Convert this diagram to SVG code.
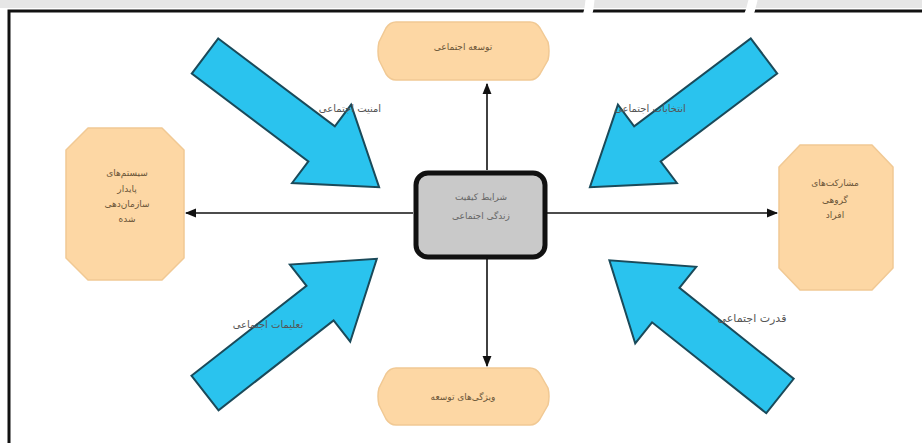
<svg xmlns="http://www.w3.org/2000/svg" width="922" height="443" viewBox="0 0 922 443">
<defs>
<style>
.node{fill:#FDD7A4;stroke:#F1C994;stroke-width:1.5;stroke-linejoin:round}
.ntext{font-family:"DejaVu Sans",sans-serif;font-size:9px;fill:#6a5538;text-anchor:middle}
.lbl{font-family:"DejaVu Sans",sans-serif;font-size:10px;fill:#555;text-anchor:middle}
.conn{stroke:#111;stroke-width:1.6;fill:none}
.big{fill:#2AC3EE;stroke:#1a4a5a;stroke-width:2;stroke-linejoin:miter}
</style>
<marker id="ah" viewBox="0 0 10 10" refX="9" refY="5" markerWidth="7" markerHeight="7" orient="auto-start-reverse">
<path d="M0,1 L10,5 L0,9 Z" fill="#111"/>
</marker>
<path id="barrow" d="M0,-22 L146,-22 L146,-49 L218,0 L146,49 L146,22 L0,22 Z"/>
</defs>
<rect x="0" y="0" width="922" height="443" fill="#fff"/>
<rect x="0" y="0" width="922" height="8" fill="#e6e6e6"/>
<path d="M9,443 L9,11 L922,11" fill="none" stroke="#111" stroke-width="3"/>
<path d="M590,0 Q589,18 579,34 M753,0 Q749,20 738,34" fill="none" stroke="#fff" stroke-width="9" stroke-linecap="round"/>

<g id="connectors">
<line class="conn" x1="487" y1="170" x2="487" y2="84" marker-end="url(#ah)"/>
<line class="conn" x1="487" y1="259" x2="487" y2="366" marker-end="url(#ah)"/>
<line class="conn" x1="413" y1="213" x2="186" y2="213" marker-end="url(#ah)"/>
<line class="conn" x1="547" y1="213" x2="777" y2="213" marker-end="url(#ah)"/>
</g>

<g id="arrow-tl">
<use href="#barrow" class="big" transform="translate(205,56) rotate(37)"/>
<text class="lbl" x="350" y="112">امنیت اجتماعی</text>
</g>
<g id="arrow-tr">
<use href="#barrow" class="big" transform="translate(764,56) rotate(143)"/>
<text class="lbl" x="650" y="112">انتخابات اجتماعی</text>
</g>
<g id="arrow-bl">
<use href="#barrow" class="big" transform="translate(205,393) rotate(-38)"/>
<text class="lbl" x="268" y="328">تعلیمات اجتماعی</text>
</g>
<g id="arrow-br">
<use href="#barrow" class="big" transform="translate(780,396) rotate(-141.5)"/>
<text class="lbl" x="752" y="322" style="font-size:11px">قدرت اجتماعی</text>
</g>

<g id="node-top">
<path class="node" d="M396,22 L530,22 Q536,22 540,28 L548,42 Q550,51 548,60 L540,74 Q536,80 530,80 L396,80 Q390,80 386,74 L379,60 Q377,51 379,42 L386,28 Q390,22 396,22 Z"/>
<text class="ntext" x="463" y="50">توسعه اجتماعی</text>
</g>
<g id="node-center">
<rect x="416" y="173" width="129" height="84" rx="12" fill="#C9C9C9" stroke="#111" stroke-width="5"/>
<text class="ntext" x="481" y="200" style="fill:#666">شرایط کیفیت</text>
<text class="ntext" x="481" y="219" style="fill:#666">زندگی اجتماعی</text>
</g>
<g id="node-left">
<path class="node" d="M88,128 L162,128 L184,150 L184,258 L162,280 L88,280 L66,258 L66,150 Z"/>
<text class="ntext" x="127" y="176">سیستم‌های</text>
<text class="ntext" x="127" y="192">پایدار</text>
<text class="ntext" x="127" y="207">سازمان‌دهی</text>
<text class="ntext" x="127" y="222">شده</text>
</g>
<g id="node-right">
<path class="node" d="M800,145 L872,145 L893,167 L893,268 L872,290 L800,290 L779,268 L779,167 Z"/>
<text class="ntext" x="835" y="186">مشارکت‌های</text>
<text class="ntext" x="835" y="203">گروهی</text>
<text class="ntext" x="835" y="218">افراد</text>
</g>
<g id="node-bottom">
<path class="node" d="M396,368 L530,368 Q536,368 540,374 L548,388 Q550,396 548,405 L540,419 Q536,425 530,425 L396,425 Q390,425 386,419 L379,405 Q377,396 379,388 L386,374 Q390,368 396,368 Z"/>
<text class="ntext" x="463" y="400">ویژگی‌های توسعه</text>
</g>
</svg>
